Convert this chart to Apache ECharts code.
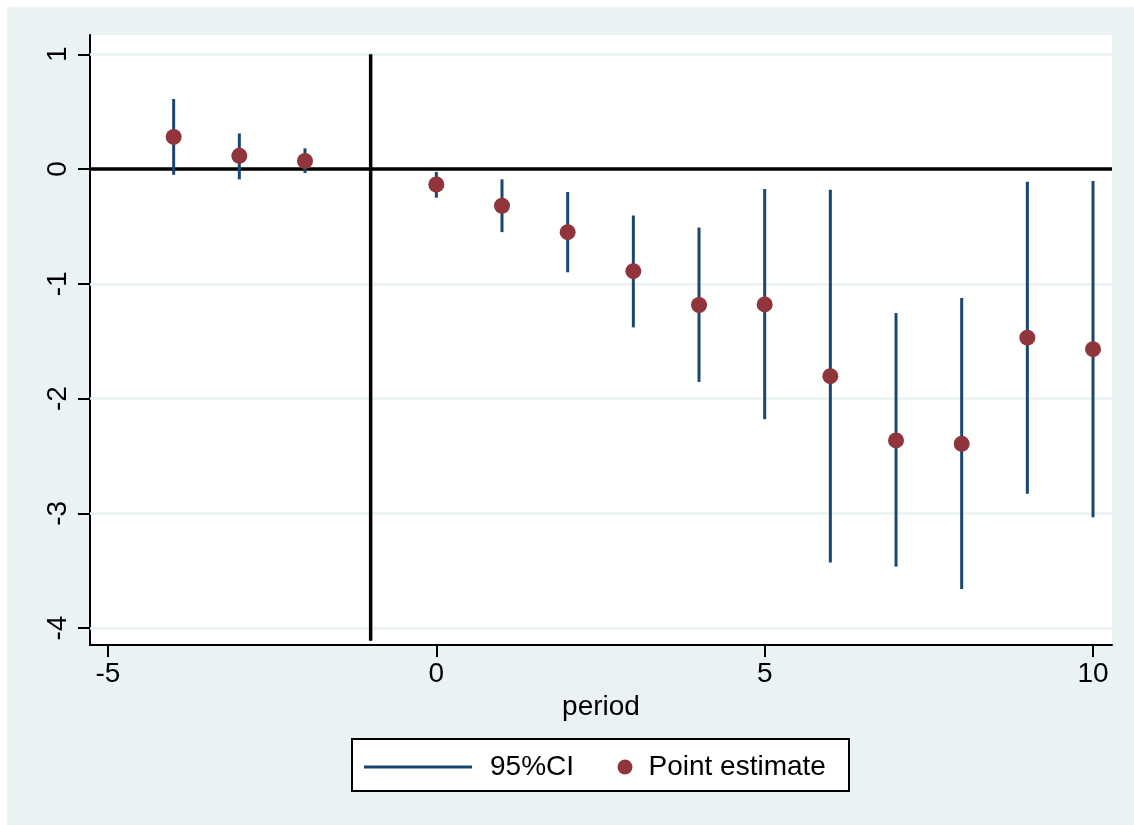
<!DOCTYPE html>
<html>
<head>
<meta charset="utf-8">
<script src="https://cdn.jsdelivr.net/npm/echarts@6/dist/echarts.min.js"></script>
<style>
  html, body { margin: 0; padding: 0; background: #ffffff; }
  #wrap { position: relative; width: 1134px; height: 825px; background: #ffffff; }
  #bg { position: absolute; left: 7px; top: 7px; width: 1127px; height: 818px; background: #eaf2f3; }
  #chart { position: absolute; left: 0; top: 0; width: 1134px; height: 825px; }
</style>
</head>
<body>
<div id="wrap"><div id="bg"></div><div id="chart"></div></div>
<script>
// ---- data ----
const periods   = [-4, -3, -2, 0, 1, 2, 3, 4, 5, 6, 7, 8, 9, 10];
const estimates = [0.28, 0.115, 0.07, -0.135, -0.32, -0.55, -0.89, -1.185, -1.18, -1.805, -2.365, -2.395, -1.47, -1.57];
const ciLow     = [-0.05, -0.09, -0.035, -0.25, -0.55, -0.90, -1.38, -1.855, -2.18, -3.43, -3.465, -3.66, -2.83, -3.035];
const ciHigh    = [0.61, 0.31, 0.18, -0.025, -0.09, -0.20, -0.405, -0.51, -0.175, -0.18, -1.255, -1.125, -0.11, -0.105];
const xTicks    = [-5, 0, 5, 10];
const yTicks    = [-4, -3, -2, -1, 0, 1];
const refVLine  = [[-1, 1], [-1, -4.11]];
const refHValue = 0;

const FONT = '"Liberation Sans", Arial, sans-serif';
const FS = 28;
const NAVY = '#1a476f';
const MAROON = '#90353b';

const chart = echarts.init(document.getElementById('chart'), null, { renderer: 'canvas' });

const ciData = periods.map((p, i) => [p, ciLow[i], ciHigh[i]]);
const ptData = periods.map((p, i) => [p, estimates[i]]);

chart.setOption({
  backgroundColor: 'transparent',
  animation: false,
  textStyle: { fontFamily: FONT },
  grid: {
    left: 90, right: 22, top: 35, bottom: 180,
    show: true, backgroundColor: '#ffffff', borderWidth: 0
  },
  xAxis: {
    type: 'value',
    min: -5.274, max: 10.289,
    name: 'period',
    nameLocation: 'middle',
    nameGap: 45,
    nameTextStyle: { fontSize: FS, color: '#000', fontFamily: FONT, verticalAlign: 'top' },
    axisLine: { show: true, onZero: false, lineStyle: { color: '#000', width: 2 } },
    axisTick: { show: true, length: 12, lineStyle: { color: '#000', width: 2 }, customValues: xTicks },
    axisLabel: { fontSize: FS, color: '#000', fontFamily: FONT, margin: 15, customValues: xTicks },
    splitLine: { show: false }
  },
  yAxis: {
    type: 'value',
    min: -4.148, max: 1.168,
    axisLine: { show: true, onZero: false, lineStyle: { color: '#000', width: 2 } },
    axisTick: { show: true, length: 12, lineStyle: { color: '#000', width: 2 }, customValues: yTicks },
    axisLabel: { fontSize: FS, color: '#000', fontFamily: FONT, margin: 18, rotate: 90, customValues: yTicks },
    splitLine: { show: false }
  },
  legend: [
    {
      data: [{ name: '95%CI', icon: 'rect' }],
      left: 364, top: 753, padding: 0,
      itemWidth: 108, itemHeight: 3,
      textStyle: { fontSize: FS, color: '#000', fontFamily: FONT, padding: [0, 0, 0, 13] },
      selectedMode: false
    },
    {
      data: [{ name: 'Point estimate', icon: 'circle' }],
      left: 617.5, top: 753, padding: 0,
      itemWidth: 15, itemHeight: 15,
      textStyle: { fontSize: FS, color: '#000', fontFamily: FONT, padding: [0, 0, 0, 11] },
      selectedMode: false
    }
  ],
  graphic: [
    {
      type: 'rect',
      shape: { x: 352, y: 739, width: 497, height: 52 },
      style: { fill: '#ffffff', stroke: '#000', lineWidth: 2 },
      z: -1, silent: true
    }
  ],
  series: [
    {
      name: 'grid',
      type: 'line',
      data: [],
      z: 1,
      silent: true,
      markLine: {
        silent: true, symbol: 'none', z: 1, animation: false,
        label: { show: false },
        lineStyle: { color: '#eaf2f3', width: 2.5, type: 'solid' },
        data: yTicks.map(v => ({ yAxis: v }))
      }
    },
    {
      name: 'ref',
      type: 'line',
      data: refVLine,
      showSymbol: false,
      symbol: 'none',
      z: 2,
      silent: true,
      lineStyle: { color: '#000', width: 3.5 },
      markLine: {
        silent: true, symbol: 'none', z: 2, animation: false,
        label: { show: false },
        lineStyle: { color: '#000', width: 3.5, type: 'solid' },
        data: [{ yAxis: refHValue }]
      }
    },
    {
      name: '95%CI',
      type: 'custom',
      z: 3,
      itemStyle: { color: NAVY },
      data: ciData,
      encode: { x: 0, y: [1, 2] },
      renderItem: function (params, api) {
        const x = api.value(0);
        const lo = api.coord([x, api.value(1)]);
        const hi = api.coord([x, api.value(2)]);
        return {
          type: 'line',
          shape: { x1: lo[0], y1: lo[1], x2: hi[0], y2: hi[1] },
          style: { stroke: NAVY, lineWidth: 3 }
        };
      }
    },
    {
      name: 'Point estimate',
      type: 'scatter',
      z: 4,
      symbol: 'circle',
      symbolSize: 16,
      itemStyle: { color: MAROON, opacity: 1 },
      data: ptData
    }
  ]
});
</script>
</body>
</html>
